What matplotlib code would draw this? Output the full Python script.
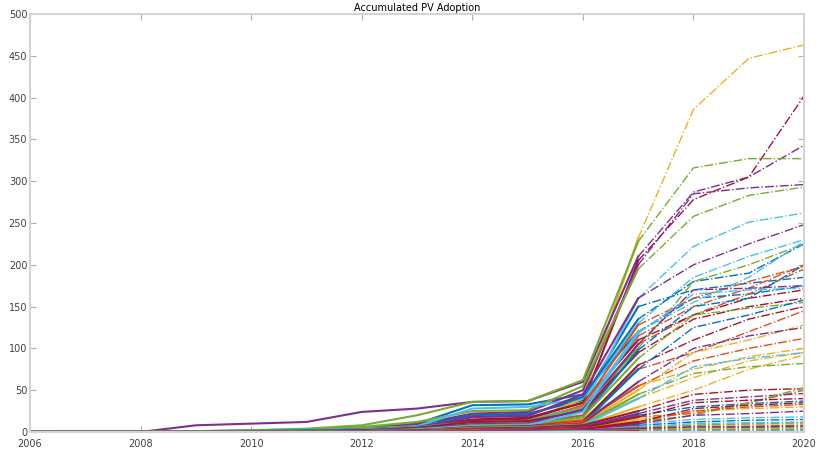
import matplotlib
matplotlib.use('Agg')
import matplotlib.pyplot as plt

# years of observed adoption and of the forecast
hist_years = list(range(2006, 2018))
fc_years = [2017, 2018, 2019, 2020]

# accumulated PV adoption per area, 2006-2017 (observed)
hist = [
    [0, 0, 0, 1, 2, 3, 5, 8, 20, 22, 38, 150],
    [0, 0, 0, 0, 1, 2, 4, 7, 12, 14, 30, 115],
    [0, 0, 0, 0, 0, 1, 3, 6, 12, 13, 40, 232],
    [0, 0, 0, 8, 10, 12, 24, 28, 36, 37, 60, 210],
    [0, 1, 1, 1, 2, 4, 8, 20, 36, 37, 62, 228],
    [0, 0, 0, 0, 1, 2, 4, 8, 14, 15, 30, 160],
    [0, 0, 0, 0, 0, 1, 3, 6, 14, 16, 35, 205],
    [0, 0, 0, 0, 1, 2, 4, 10, 32, 33, 45, 120],
    [0, 0, 0, 0, 0, 1, 3, 6, 10, 11, 20, 105],
    [0, 0, 0, 0, 0, 1, 2, 4, 8, 9, 15, 55],
    [0, 0, 0, 0, 1, 2, 5, 9, 22, 24, 50, 200],
    [0, 0, 0, 0, 1, 3, 6, 12, 25, 26, 55, 195],
    [0, 0, 0, 0, 1, 2, 4, 7, 28, 30, 40, 130],
    [0, 0, 0, 0, 0, 1, 3, 6, 15, 17, 35, 110],
    [0, 0, 0, 0, 1, 2, 3, 6, 18, 20, 42, 135],
    [0, 0, 0, 0, 0, 1, 2, 5, 10, 11, 32, 128],
    [0, 0, 0, 0, 0, 0, 1, 3, 6, 7, 12, 40],
    [0, 0, 0, 0, 0, 1, 2, 5, 18, 19, 45, 160],
    [0, 0, 0, 0, 0, 1, 3, 6, 12, 13, 30, 100],
    [0, 0, 0, 0, 0, 1, 2, 4, 10, 11, 28, 120],
    [0, 0, 0, 0, 0, 1, 2, 5, 12, 13, 25, 95],
    [0, 0, 0, 0, 0, 1, 2, 4, 9, 10, 18, 98],
    [0, 0, 0, 0, 0, 0, 1, 3, 7, 8, 14, 75],
    [0, 0, 0, 0, 0, 0, 1, 2, 5, 6, 10, 50],
    [0, 0, 0, 0, 0, 1, 2, 4, 9, 10, 27, 105],
    [0, 0, 0, 0, 0, 0, 1, 3, 8, 9, 18, 88],
    [0, 0, 0, 0, 0, 0, 1, 3, 7, 8, 24, 118],
    [0, 0, 0, 0, 0, 0, 1, 2, 6, 7, 12, 80],
    [0, 0, 0, 0, 0, 0, 1, 2, 5, 6, 10, 75],
    [0, 0, 0, 0, 0, 0, 1, 2, 5, 6, 12, 55],
    [0, 0, 0, 0, 0, 0, 0, 1, 4, 5, 8, 30],
    [0, 0, 0, 0, 0, 0, 1, 2, 5, 6, 10, 60],
    [0, 0, 0, 0, 0, 0, 1, 2, 5, 6, 9, 45],
    [0, 0, 0, 0, 0, 0, 1, 2, 4, 5, 8, 40],
    [0, 0, 0, 0, 0, 0, 1, 2, 4, 5, 8, 25],
    [0, 0, 0, 0, 0, 0, 0, 1, 3, 4, 6, 20],
    [0, 0, 0, 0, 0, 0, 0, 1, 3, 4, 6, 18],
    [0, 0, 0, 0, 0, 0, 0, 1, 2, 3, 5, 15],
    [0, 0, 0, 0, 0, 0, 0, 1, 3, 4, 6, 22],
    [0, 0, 0, 0, 0, 0, 0, 1, 2, 3, 5, 12],
    [0, 0, 0, 0, 0, 0, 0, 1, 2, 2, 4, 10],
    [0, 0, 0, 0, 0, 0, 0, 1, 2, 3, 5, 18],
    [0, 0, 0, 0, 0, 0, 0, 0, 1, 2, 3, 8],
    [0, 0, 0, 0, 0, 0, 0, 1, 2, 2, 4, 12],
    [0, 0, 0, 0, 0, 0, 0, 0, 1, 1, 2, 6],
    [0, 0, 0, 0, 0, 0, 0, 1, 1, 2, 3, 10],
    [0, 0, 0, 0, 0, 0, 0, 0, 1, 1, 2, 5],
    [0, 0, 0, 0, 0, 0, 0, 0, 1, 1, 2, 6],
    [0, 0, 0, 0, 0, 0, 0, 0, 1, 1, 3, 12],
    [0, 0, 0, 0, 0, 0, 0, 0, 0, 1, 1, 3],
    [0, 0, 0, 0, 0, 0, 0, 0, 1, 1, 2, 5],
    [0, 0, 0, 0, 0, 0, 0, 0, 0, 1, 1, 3],
    [0, 0, 0, 0, 0, 0, 0, 0, 1, 1, 2, 4],
    [0, 0, 0, 0, 0, 0, 0, 0, 0, 0, 1, 2],
    [0, 0, 0, 0, 0, 0, 0, 0, 0, 0, 1, 1],
    [0, 0, 0, 0, 0, 0, 0, 0, 0, 0, 0, 1],
]

# forecast 2018-2020 (continues from the 2017 value)
fc = [
    [170, 178, 185], [150, 172, 200], [386, 447, 463], [287, 305, 343],
    [316, 327, 327], [222, 251, 262], [278, 305, 402], [160, 165, 175],
    [140, 165, 195], [75, 90, 100], [285, 292, 296], [258, 283, 293],
    [185, 210, 230], [140, 160, 170], [180, 190, 225], [160, 180, 198],
    [65, 85, 95], [200, 225, 248], [180, 200, 225], [155, 185, 228],
    [135, 150, 160], [150, 160, 200], [95, 120, 145], [95, 110, 128],
    [170, 172, 175], [140, 148, 155], [165, 170, 172], [110, 135, 150],
    [125, 140, 158], [85, 100, 112], [50, 75, 92], [100, 115, 125],
    [70, 78, 82], [78, 88, 95], [45, 50, 52], [30, 34, 37],
    [22, 35, 50], [25, 28, 30], [38, 42, 46], [20, 35, 53],
    [15, 17, 18], [35, 38, 40], [12, 14, 15], [25, 30, 33],
    [8, 9, 10], [20, 22, 25], [8, 10, 11], [10, 11, 12],
    [28, 32, 35], [4, 5, 5], [6, 7, 8], [4, 4, 5],
    [6, 6, 7], [3, 3, 3], [2, 2, 2], [1, 1, 1],
]

# matlab default colour order
colors = ['#0072BD', '#D95319', '#EDB120', '#7E2F8E', '#77AC30', '#4DBEEE', '#A2142F']

fig = plt.figure(figsize=(8.23, 4.58), dpi=100)
ax = fig.add_axes([0.0365, 0.0568, 0.9405, 0.9126])

for i in range(len(hist)):
    c = colors[i % len(colors)]
    ax.plot(hist_years, hist[i], '-', color=c, lw=1.5)
    ax.plot(fc_years, [hist[i][-1]] + fc[i], '-.', color=c, lw=1.0)

ax.set_xlim(2006, 2020)
ax.set_ylim(0, 500)
ax.set_xticks(range(2006, 2021, 2))
ax.set_yticks(range(0, 501, 50))
ax.set_title('Accumulated PV Adoption', fontsize=7, pad=2)

for s in ax.spines.values():
    s.set_color('#d4d4d4')
    s.set_linewidth(1.5)
ax.tick_params(direction='in', top=True, right=True, length=4, width=0.8,
               colors='#b0b0b0', labelcolor='#404040', labelsize=7, pad=2)
ax.tick_params(axis='x', pad=5)

plt.savefig('out.png', dpi=100)
